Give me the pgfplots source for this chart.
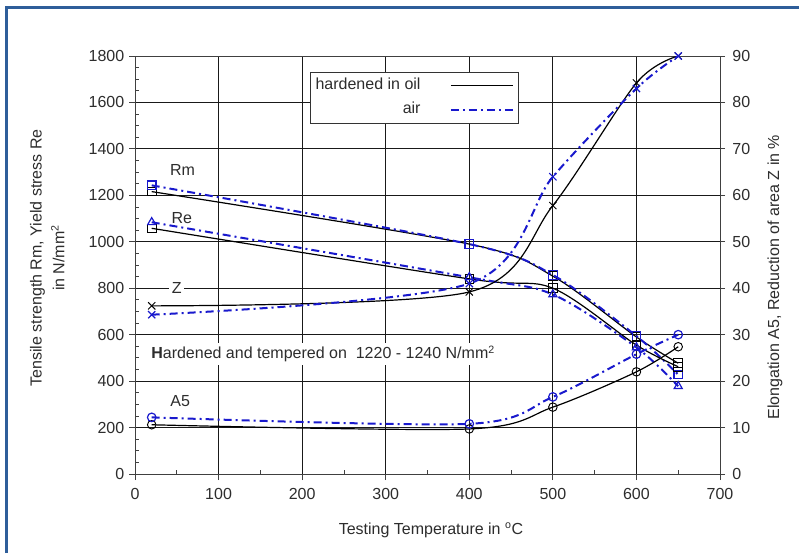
\documentclass[border=0pt]{standalone}
\usepackage{fontspec}
\setmainfont{Liberation Sans}
\usepackage{pgfplots}
\pgfplotsset{compat=1.18}

\definecolor{frameblue}{RGB}{46,94,154}
\definecolor{airblue}{RGB}{25,25,205}
\definecolor{txt}{RGB}{45,45,45}

% 1 px of the reference = 0.75pt
\pgfplotsset{
  base/.style={
    scale only axis, width=438.75pt, height=313.5pt,
    at={(101.25pt,59.25pt)}, anchor=south west,
    xmin=0, xmax=700,
    font=\fontsize{12}{14}\selectfont,
    /pgf/number format/assume math mode=true,
    /pgf/number format/1000 sep={},
    tick style={black!75, line width=0.6pt},
    axis line style={black!75, line width=0.7pt},
    every tick label/.append style={text=txt},
  },
  oil/.style={black, line width=0.9pt, smooth, tension=0.5,
    mark options={solid, line width=0.7pt}},
  air/.style={airblue, line width=1.5pt, smooth, tension=0.5,
    dash pattern=on 6pt off 3pt on 1.5pt off 3pt,
    mark options={solid, line width=0.9pt}},
}

\begin{document}
\begin{tikzpicture}
\useasboundingbox (0,0) rectangle (599.25pt,414.75pt);
\fill[white] (0,0) rectangle (599.25pt,414.75pt);
\draw[frameblue, line width=2.25pt] (4.5pt,0) -- (4.5pt,408.75pt) -- (599.25pt,408.75pt);

% minor ticks, pointing inwards
\begin{axis}[base, ymin=0, ymax=1800,
  xtick={50,150,...,650}, ytick={50,100,...,1750},
  xticklabels={}, yticklabels={},
  tick align=inside, major tick length=3pt,
  xtick pos=bottom, ytick pos=left]
\end{axis}

% left axis: Rm, Re
\begin{axis}[base, ymin=0, ymax=1800,
  xtick={0,100,...,700}, ytick={0,200,...,1800},
  tick align=outside, major tick length=4.5pt,
  xtick pos=bottom, ytick pos=left,
  grid=major, grid style={black!90, line width=0.65pt},
  xticklabel style={yshift=-3pt},
  xlabel={Testing Temperature in \textsuperscript{o}C},
  xlabel style={at={(axis description cs:0.506,-0.134)}, anchor=center, text=txt},
  ylabel={Tensile strength Rm, Yield stress Re\\[3pt]in N/mm\textsuperscript{2}},
  ylabel style={at={(axis description cs:-0.150,0.517)}, anchor=center,
    align=center, text=txt},
  legend cell align=right, legend plot pos=right,
  legend image code/.code={\draw[#1] (0pt,0pt) -- (46.5pt,0pt);},
  legend style={at={(axis description cs:0.2991,0.9617)}, anchor=north west,
    draw=black!80, fill=white, text=txt, inner xsep=3pt, inner ysep=3pt,
    row sep=4pt, nodes={inner sep=1pt, text height=9pt, text depth=3pt},
    /tikz/every odd column/.append style={column sep=21pt}},
]
\addlegendimage{black, line width=0.9pt}
\addlegendentry{hardened in oil}
\addlegendimage{airblue, line width=1.5pt, dash pattern=on 6pt off 3pt on 1.5pt off 3pt}
\addlegendentry{air}

% Rm
\addplot[oil, mark=square, mark size=3.2pt] coordinates {(20,1216) (400,990) (500,852) (600,590) (650,477)};
\addplot[air, mark=square, mark size=3.2pt] coordinates {(20,1243) (400,990) (500,857) (600,594) (650,428)};
% Re
\addplot[oil, mark=square, mark size=3.2pt] coordinates {(20,1058) (400,840) (500,800) (600,555) (650,462)};
\addplot[air, mark=triangle, mark size=3.5pt] coordinates {(20,1084) (400,847) (500,773) (600,545) (650,378)};

\node[text=txt] at (axis cs:57,1309) {Rm};
\node[text=txt] at (axis cs:56,1101) {Re};
\node[text=txt, fill=white, inner sep=2pt] at (axis cs:50,802) {Z};
\node[text=txt] at (axis cs:54,316) {A5};
\node[text=txt, fill=white, anchor=west, inner sep=2pt] at (axis cs:16,517)
  {\textbf{H}ardened and tempered on\ \ 1220 - 1240 N/mm\textsuperscript{2}};
\end{axis}

% right axis: Z, A5
\begin{axis}[base, ymin=0, ymax=90, ytick={0,10,...,90},
  axis y line*=right, axis x line=none,
  tick align=outside, major tick length=3.75pt,
  yticklabel style={xshift=2pt},
  ylabel={Elongation A5, Reduction of area Z in \%},
  ylabel style={at={(axis description cs:1.094,0.471)}, anchor=center, text=txt},
]
% Z
\addplot[oil, mark=x, mark size=3.8pt] coordinates {(20,36.2) (400,39.2) (500,57.8) (600,84.2) (650,90)};
\addplot[air, mark=x, mark size=3.8pt] coordinates {(20,34.3) (400,41) (500,64) (600,83) (650,90)};
% A5
\addplot[oil, mark=o, mark size=3.2pt] coordinates {(20,10.6) (400,9.7) (500,14.4) (600,22) (650,27.4)};
\addplot[air, mark=o, mark size=3.2pt] coordinates {(20,12.2) (400,10.8) (500,16.6) (600,25.8) (650,30)};
\end{axis}
\end{tikzpicture}
\end{document}
